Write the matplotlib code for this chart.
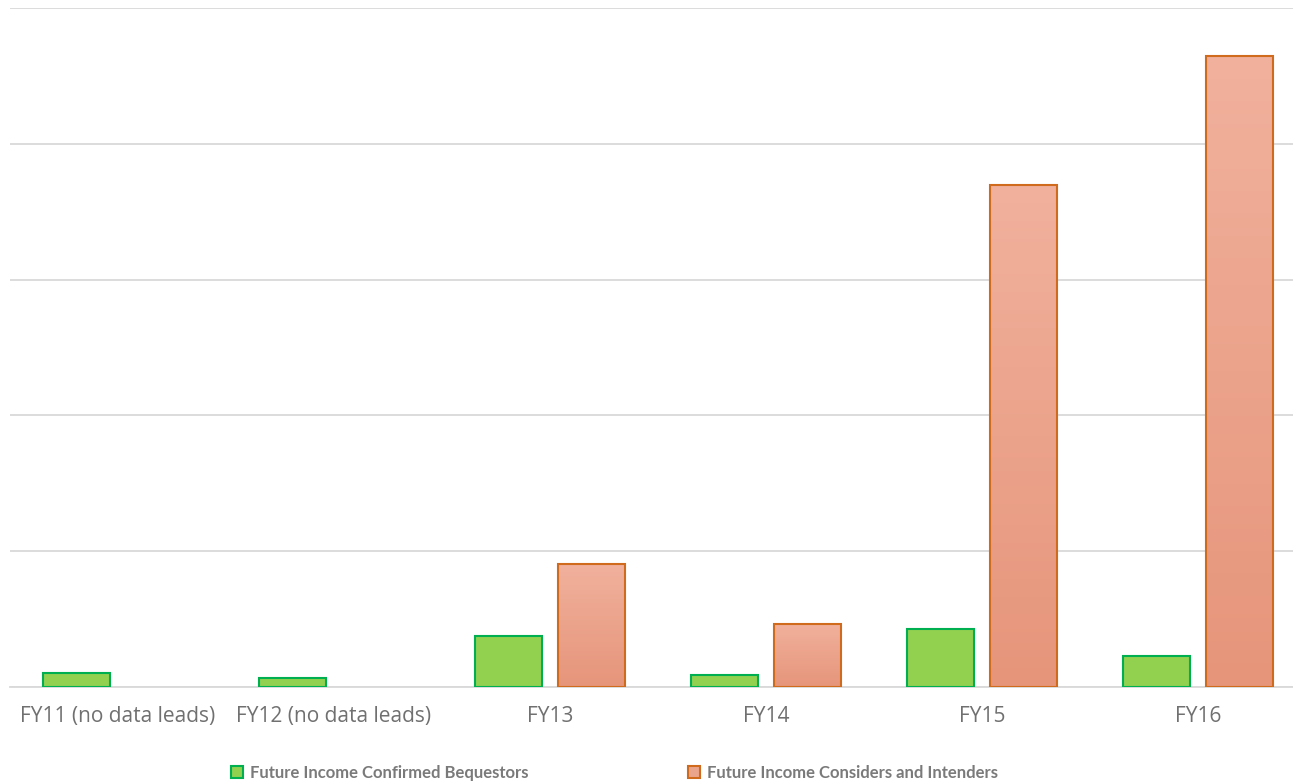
import matplotlib.pyplot as plt
import numpy as np
from matplotlib.colors import LinearSegmentedColormap
from matplotlib.patches import Patch

categories = ["FY11 (no data leads)", "FY12 (no data leads)", "FY13", "FY14", "FY15", "FY16"]
confirmed = [0.10, 0.066, 0.376, 0.088, 0.427, 0.228]
considers = [0.0, 0.0, 0.906, 0.464, 3.70, 4.65]

plt.rcParams['font.family'] = ['Open Sans', 'DejaVu Sans']

fig = plt.figure(figsize=(12.93, 7.83), dpi=100)
ax = fig.add_axes([10 / 1293, 96 / 783, 1296 / 1293, 679 / 783])

x = np.arange(len(categories))
w = 0.31
off = 0.192

green_bars = ax.bar(x - off, confirmed, w, color="#92D050", edgecolor="#00B050",
                    linewidth=1.5, zorder=3)

cmap = LinearSegmentedColormap.from_list("peach", ["#E6957A", "#F1B19D"])
grad = np.linspace(0, 1, 256).reshape(-1, 1)
for xi, v in zip(x, considers):
    if v <= 0:
        continue
    bar = ax.bar(xi + off, v, w, color="none", edgecolor="#D06A1C",
                 linewidth=1.5, zorder=4)[0]
    im = ax.imshow(grad, cmap=cmap, origin="lower", aspect="auto",
                   extent=[xi + off - w / 2, xi + off + w / 2, 0, v], zorder=3)
    im.set_clip_path(bar)

ax.set_xlim(-0.5, len(categories) - 0.5)
ax.set_ylim(0, 5)
ax.set_yticks(np.arange(0, 6))
ax.yaxis.grid(True, color="#D9D9D9", linewidth=1.3, zorder=0)
ax.set_axisbelow(True)
ax.tick_params(axis="y", left=False, labelleft=False)
ax.tick_params(axis="x", length=0, pad=14, labelsize=15, labelcolor="#707070")
ax.set_xticks(x)
ax.set_xticklabels(categories)
for s in ["top", "right", "left"]:
    ax.spines[s].set_visible(False)
ax.spines["bottom"].set_color("#D9D9D9")
ax.spines["bottom"].set_linewidth(1.3)

handles = [Patch(facecolor="#92D050", edgecolor="#00B050", linewidth=1.5),
           Patch(facecolor="#EBA48C", edgecolor="#D06A1C", linewidth=1.5)]
labels = ["Future Income Confirmed Bequestors", "Future Income Considers and Intenders"]
leg = fig.legend(handles, labels, loc="center",
                 bbox_to_anchor=(0.5 - 32 / 1293, 1 - 773 / 783),
                 ncol=2, frameon=False, handlelength=0.72, handleheight=0.72,
                 handletextpad=0.4, columnspacing=9.6,
                 prop={"family": "Lato", "weight": "bold", "size": 12})
for t in leg.get_texts():
    t.set_color("#7A7A7A")

fig.savefig("out.png", dpi=100)
